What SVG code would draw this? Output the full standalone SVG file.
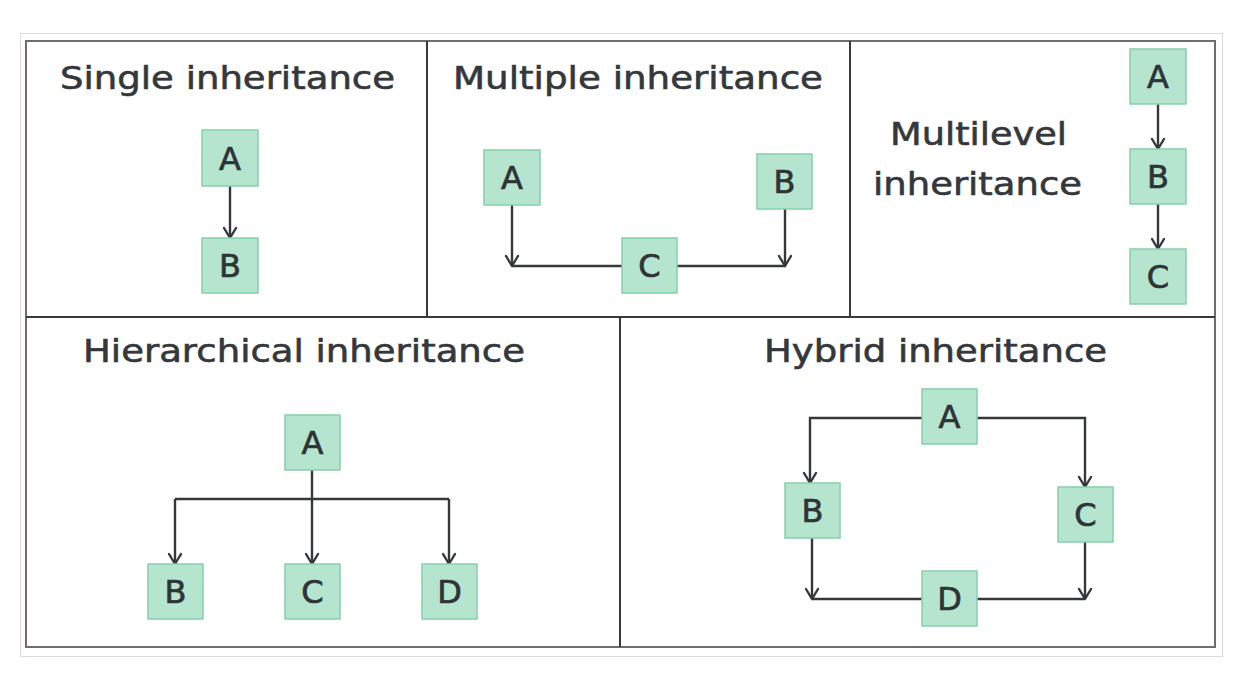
<svg xmlns="http://www.w3.org/2000/svg" width="1252" height="682" viewBox="0 0 1252 682">
<defs>
<marker id="arr" markerWidth="14" markerHeight="16" viewBox="-12 -8 14 16" refX="0" refY="0" orient="auto" markerUnits="userSpaceOnUse">
<path d="M-10,-6 L0,0 L-10,6" fill="none" stroke="#34383b" stroke-width="2.4" stroke-linecap="round" stroke-linejoin="round"/>
</marker>
<style>
.box{fill:#b5e5cf;stroke:#86d0aa;stroke-width:1.5}
.lbl{font-family:"DejaVu Sans","Noto Sans",sans-serif;font-size:32px;fill:#2f3437;stroke:#2f3437;stroke-width:0.7;text-anchor:middle}
.ttl{font-family:"DejaVu Sans","Noto Sans",sans-serif;font-size:32px;fill:#34383b;stroke:#34383b;stroke-width:0.6;text-anchor:middle}
.con{fill:none;stroke:#34383b;stroke-width:2.4}
.arw{marker-end:url(#arr)}
.div{stroke:#3a3a3a;stroke-width:2}
</style>
</defs>
<rect x="0" y="0" width="1252" height="682" fill="#ffffff"/>
<rect x="20.5" y="33.5" width="1202" height="623" fill="none" stroke="#e2dada" stroke-width="1"/>
<g id="frame">
<rect x="26" y="41" width="1189" height="606" fill="#ffffff" stroke="#6e6e6e" stroke-width="2"/>
<line class="div" x1="427" y1="41" x2="427" y2="317"/>
<line class="div" x1="850" y1="41" x2="850" y2="317"/>
<line class="div" x1="26" y1="317" x2="1215" y2="317"/>
<line class="div" x1="620" y1="317" x2="620" y2="647"/>
</g>
<g id="titles">
<text class="ttl" x="227.5" y="89" textLength="335" lengthAdjust="spacingAndGlyphs">Single inheritance</text>
<text class="ttl" x="638" y="89" textLength="370" lengthAdjust="spacingAndGlyphs">Multiple inheritance</text>
<text class="ttl" x="978.5" y="145" textLength="177" lengthAdjust="spacingAndGlyphs">Multilevel</text>
<text class="ttl" x="977.5" y="195" textLength="209" lengthAdjust="spacingAndGlyphs">inheritance</text>
<text class="ttl" x="304" y="362" textLength="442" lengthAdjust="spacingAndGlyphs">Hierarchical inheritance</text>
<text class="ttl" x="935.5" y="362" textLength="343" lengthAdjust="spacingAndGlyphs">Hybrid inheritance</text>
</g>
<g id="connectors">
<line class="con arw" x1="230" y1="186" x2="230" y2="238"/>
<path class="con arw" d="M512,205 V266"/>
<path class="con" d="M512,266 H622 M677,266 H785"/>
<path class="con arw" d="M785,209 V266"/>
<line class="con arw" x1="1158" y1="104" x2="1158" y2="149"/>
<line class="con arw" x1="1158" y1="204" x2="1158" y2="249"/>
<line class="con arw" x1="312" y1="470" x2="312" y2="564"/>
<path class="con" d="M175,499 H449"/>
<path class="con arw" d="M175,499 V564"/>
<path class="con arw" d="M449,499 V564"/>
<path class="con arw" d="M922,418 H810 V483"/>
<path class="con arw" d="M977,418 H1085 V487"/>
<path class="con arw" d="M812,538 V599"/>
<path class="con arw" d="M1085,542 V599"/>
<path class="con" d="M812,599 H922 M977,599 H1085"/>
</g>
<g id="single-A"><rect class="box" x="202" y="130" width="56" height="56"/><text class="lbl" x="230" y="170">A</text></g>
<g id="single-B"><rect class="box" x="202" y="238" width="56" height="55"/><text class="lbl" x="230" y="277">B</text></g>
<g id="multiple-A"><rect class="box" x="484" y="150" width="56" height="55"/><text class="lbl" x="512" y="189">A</text></g>
<g id="multiple-B"><rect class="box" x="757" y="154" width="55" height="55"/><text class="lbl" x="784.5" y="193">B</text></g>
<g id="multiple-C"><rect class="box" x="622" y="238" width="55" height="55"/><text class="lbl" x="649.5" y="277">C</text></g>
<g id="multilevel-A"><rect class="box" x="1130" y="49" width="56" height="55"/><text class="lbl" x="1158" y="88">A</text></g>
<g id="multilevel-B"><rect class="box" x="1130" y="149" width="56" height="55"/><text class="lbl" x="1158" y="188">B</text></g>
<g id="multilevel-C"><rect class="box" x="1130" y="249" width="56" height="55"/><text class="lbl" x="1158" y="288">C</text></g>
<g id="hier-A"><rect class="box" x="285" y="415" width="55" height="55"/><text class="lbl" x="312.5" y="454">A</text></g>
<g id="hier-B"><rect class="box" x="148" y="564" width="55" height="55"/><text class="lbl" x="175.5" y="603">B</text></g>
<g id="hier-C"><rect class="box" x="285" y="564" width="55" height="55"/><text class="lbl" x="312.5" y="603">C</text></g>
<g id="hier-D"><rect class="box" x="422" y="564" width="55" height="55"/><text class="lbl" x="449.5" y="603">D</text></g>
<g id="hybrid-A"><rect class="box" x="922" y="389" width="55" height="55"/><text class="lbl" x="949.5" y="428">A</text></g>
<g id="hybrid-B"><rect class="box" x="785" y="483" width="55" height="55"/><text class="lbl" x="812.5" y="522">B</text></g>
<g id="hybrid-C"><rect class="box" x="1058" y="487" width="55" height="55"/><text class="lbl" x="1085.5" y="526">C</text></g>
<g id="hybrid-D"><rect class="box" x="922" y="571" width="55" height="55"/><text class="lbl" x="949.5" y="610">D</text></g>
</svg>
